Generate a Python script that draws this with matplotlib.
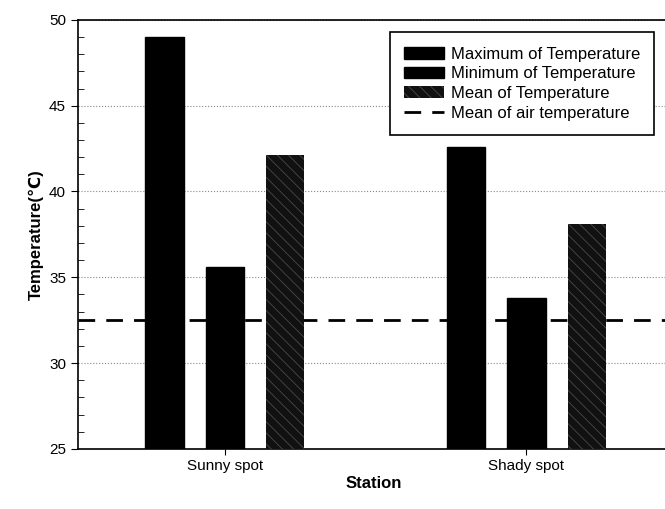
import matplotlib
matplotlib.use('Agg')
import matplotlib.pyplot as plt
import numpy as np
from matplotlib.ticker import MultipleLocator

plt.rcParams['font.family'] = ['Liberation Sans', 'DejaVu Sans']
plt.rcParams['hatch.linewidth'] = 0.6

stations = ['Sunny spot', 'Shady spot']
max_temp = [49.0, 42.6]
min_temp = [35.6, 33.8]
mean_temp = [42.1, 38.1]
air_mean = 32.5

x = np.arange(len(stations))  # group centres
width = 0.127
gap = 0.2

fig = plt.figure(figsize=(6.65, 5.09), dpi=100)
ax = fig.add_axes([0.117, 0.118, 0.89, 0.843])

b1 = ax.bar(x - gap, max_temp, width, color='black', edgecolor='black',
            label='Maximum of Temperature', zorder=4)
b2 = ax.bar(x, min_temp, width, color='black', edgecolor='black',
            label='Minimum of Temperature', zorder=4)
b3 = ax.bar(x + gap, mean_temp, width, color='#111111', edgecolor='#4a4a4a',
            hatch='\\\\\\', linewidth=0, label='Mean of Temperature', zorder=4)
ln = ax.axhline(air_mean, color='black', linestyle=(0, (6, 4)), linewidth=2,
                label='Mean of air temperature', zorder=3)

ax.set_ylim(25, 50)
ax.set_xlim(-0.488, 1.475)
ax.set_xticks(x)
ax.set_xticklabels(stations, fontsize=11)
ax.yaxis.set_major_locator(MultipleLocator(5))
ax.yaxis.set_minor_locator(MultipleLocator(1))
ax.tick_params(axis='y', which='major', direction='out', length=5, labelsize=11)
ax.tick_params(axis='y', which='minor', direction='in', length=4)
ax.tick_params(axis='x', direction='out', length=4)
ax.grid(axis='y', which='major', linestyle=':', color='#888888', linewidth=0.8, zorder=0)

ax.set_ylabel('Temperature(℃)', fontsize=12, fontweight='bold')
ax.set_xlabel('Station', fontsize=12, fontweight='bold', labelpad=2)

for s in ['left', 'bottom', 'top']:
    ax.spines[s].set_linewidth(1.2)
ax.spines['right'].set_visible(False)

leg = ax.legend(handles=[b1, b2, b3, ln], loc='upper right',
                bbox_to_anchor=(0.988, 0.99), fontsize=12,
                fancybox=False, edgecolor='black', framealpha=1,
                handlelength=2.4, handletextpad=0.4, labelspacing=0.28,
                borderpad=0.85)
leg.get_frame().set_linewidth(1.2)

fig.savefig('out.png', dpi=100)
